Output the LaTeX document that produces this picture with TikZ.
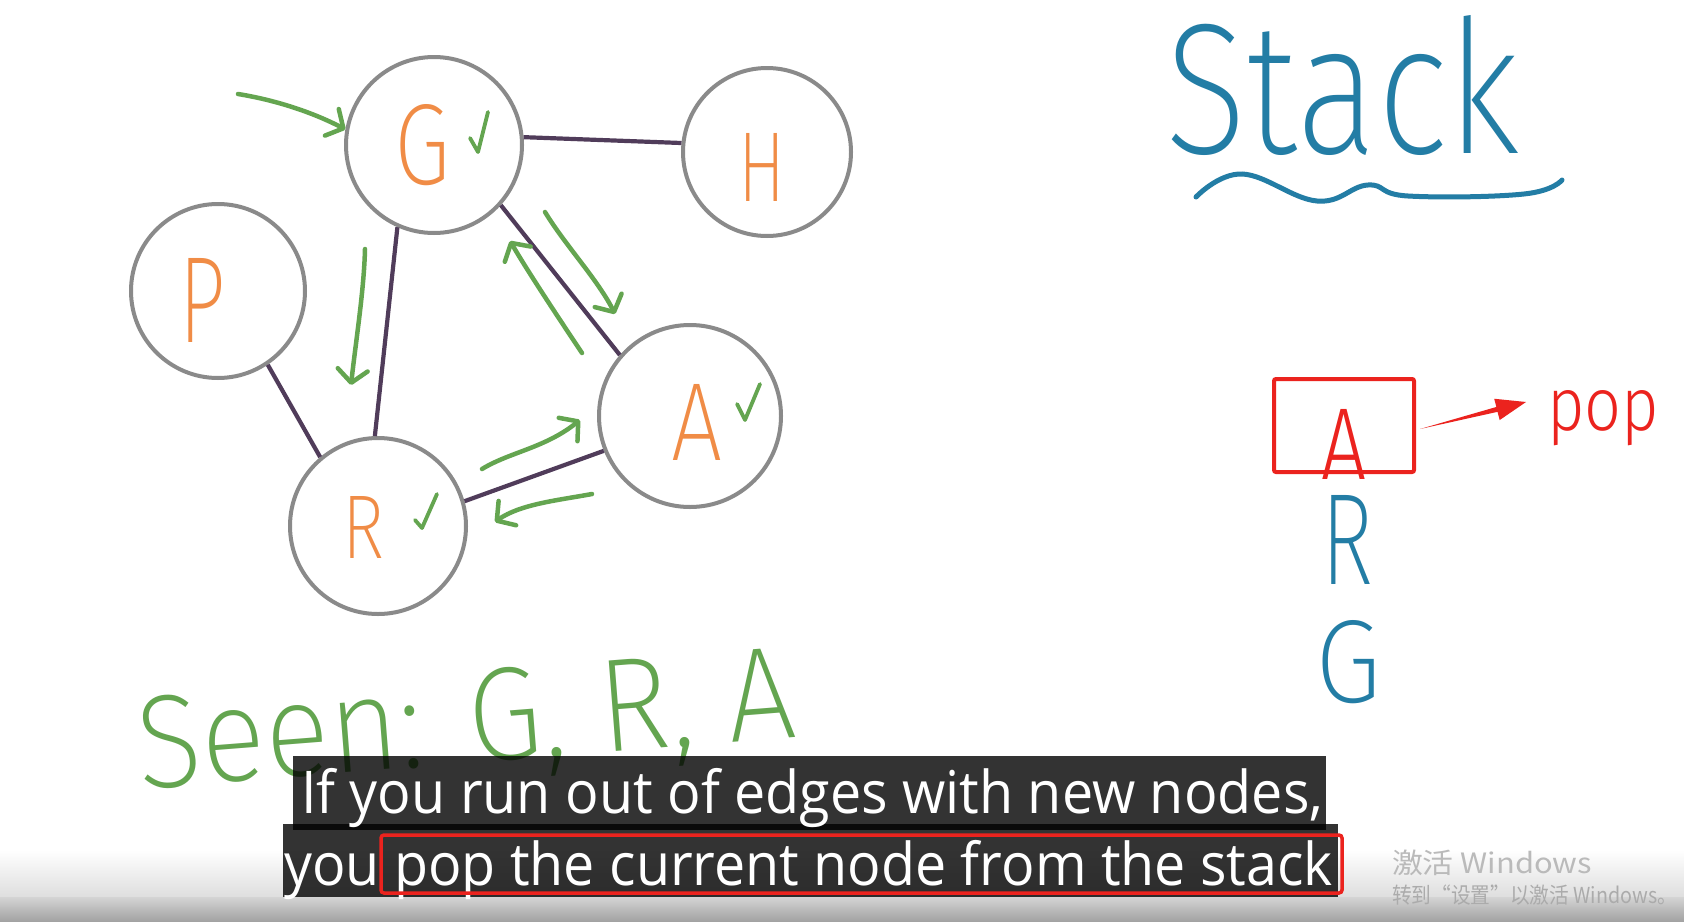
\documentclass[tikz,border=0pt]{standalone}
\usepackage{fontspec}
\usepackage{graphicx}
\setmainfont{Open Sans}
\newfontfamily\hand{Fira Sans}[UprightFont={* Light}]
\newfontfamily\handx{Fira Sans}[UprightFont={* ExtraLight}]
\newfontfamily\subfont{Open Sans}
\newfontfamily\cjkfont{Noto Sans CJK SC}
\usetikzlibrary{arrows.meta,calc}
\definecolor{cgray}{RGB}{138,138,138}
\definecolor{epurple}{RGB}{80,60,90}
\definecolor{hgreen}{RGB}{100,165,80}
\definecolor{horange}{RGB}{240,140,70}
\definecolor{hblue}{RGB}{35,125,165}
\definecolor{hred}{RGB}{235,35,30}
\begin{document}
\begin{tikzpicture}[x=1pt,y=-1pt,
  gnode/.style={circle,draw=cgray,line width=4pt,inner sep=0pt},
  edge/.style={draw=epurple,line width=4.2pt},
  garrow/.style={draw=hgreen,line width=4.5pt,line cap=round,line join=round,
    -{Straight Barb[length=13pt,width=30pt,round]}},
  check/.style={draw=hgreen,line width=3.8pt,line cap=round,line join=round},
  hw/.style={inner sep=0pt,outer sep=0pt},
  subbox/.style={fill=black,fill opacity=0.8}]
\useasboundingbox (0,0) rectangle (1684,921);
\fill[white] (0,0) rectangle (1684,921);
\shade[top color=white,bottom color=black!13] (0,850) rectangle (1684,897.5);
\shade[top color=black!17,bottom color=black!36] (0,897) rectangle (1684,921);

% graph nodes
\node[gnode,minimum size=176pt] (G) at (434,145) {};
\node[gnode,minimum size=168pt] (H) at (767,152) {};
\node[gnode,minimum size=174pt] (P) at (218,291) {};
\node[gnode,minimum size=182pt] (A) at (690,416) {};
\node[gnode,minimum size=176pt] (R) at (378,526) {};

% labels
\node[hw,text=horange] (Gl) at (423,145) {\resizebox{56pt}{80pt}{\handx G}};
\node[hw,text=horange] (Hl) at (762,167) {\resizebox{47pt}{68pt}{\handx H}};
\node[hw,text=horange] (Pl) at (203,300) {\resizebox{46pt}{84pt}{\handx P}};
\node[hw,text=horange] (Al) at (697,422) {\resizebox{51pt}{76pt}{\handx A}};
\node[hw,text=horange] (Rl) at (363,527) {\resizebox{42pt}{62pt}{\handx R}};

% edges
\draw[edge] (G.5) -- (H.174);
\draw[edge] (G.246) -- (R.92);
\draw[edge] (G.318) -- (A.139);
\draw[edge] (P.304) -- (R.130);
\draw[edge] (R.16) -- (A.202);

% green traversal arrows
\coordinate (in0) at (238,94);
\draw[garrow] (in0) .. controls (275,100) and (312,112) .. (G.170);
\coordinate (gr0) at (365,249); \coordinate (gr1) at (351,385);
\draw[garrow] (gr0) .. controls (364,290) and (356,340) .. (gr1);
\coordinate (ga0) at (545,212); \coordinate (ga1) at (615,314);
\draw[garrow] (ga0) .. controls (565,245) and (598,280) .. (ga1);
\coordinate (ag0) at (582,353); \coordinate (ag1) at (510,241);
\draw[garrow] (ag0) .. controls (560,320) and (530,275) .. (ag1);
\coordinate (ra0) at (482,469); \coordinate (ra1) at (580,420);
\draw[garrow] (ra0) .. controls (510,452) and (545,448) .. (ra1);
\coordinate (ar0) at (592,494); \coordinate (ar1) at (495,522);
\draw[garrow] (ar0) .. controls (560,500) and (520,504) .. (ar1);

% check marks
\draw[check] (470,138) -- (478,152) -- (488,112);
\draw[check] (737,404) -- (745,420) -- (760,384);
\draw[check] (415,520) -- (422,528) -- (437,494);

% Seen list
\node[hw,text=hgreen,rotate=4.5,anchor=base west] (seen) at (140,789)
  {\resizebox{660pt}{92pt}{\handx Seen: G, R, A}};

% Stack title
\node[hw,text=hblue,anchor=south west] (stk) at (1165,156) {\resizebox{355pt}{138pt}{\handx Stack}};
\draw[hblue,line width=5pt,line cap=round] plot[smooth,tension=0.7] coordinates
  {(1196,197) (1242,174) (1317,201) (1368,185) (1408,196) (1524,194) (1562,180)};

% stack contents
\node[draw=hred,line width=4pt,rounded corners=2pt,minimum width=140pt,minimum height=93pt,inner sep=0pt] (topbox) at (1344,425.5) {};
\node[hw,text=hred] (sA) at (1344,444) {\resizebox{45pt}{70pt}{\hand A}};
\node[hw,text=hblue] (sR) at (1347,540) {\resizebox{52pt}{89pt}{\handx R}};
\node[hw,text=hblue] (sG) at (1349,662) {\resizebox{66pt}{82pt}{\handx G}};

% pop arrow
\coordinate (pt) at (1420,429);
\coordinate (ph) at (1526,402);
\coordinate (pb) at ($(ph)!30pt!(pt)$);
\fill[hred] (pt) -- ($(pb)!2.5pt!90:(ph)$) -- ($(pb)!11pt!90:(ph)$) -- (ph)
  -- ($(pb)!11pt!-90:(ph)$) -- ($(pb)!2.5pt!-90:(ph)$) -- cycle;
\node[hw,text=hred,anchor=base west] (pop) at (1547,430) {\resizebox{112pt}{40pt}{\hand pop}};

% subtitles
\fill[subbox] (293,756) rectangle (1326,830);
\fill[subbox] (283,824) rectangle (1338,897);
\node[hw,text=white,anchor=base west] (l1) at (301,813)
  {\resizebox{1022pt}{\height}{\subfont\fontsize{59}{59}\selectfont If you run out of edges with new nodes,}};
\node[hw,text=white,anchor=base west] (l2) at (284,885)
  {\resizebox{1049pt}{\height}{\subfont\fontsize{59}{59}\selectfont you pop the current node from the stack}};
\draw[hred,line width=3.5pt,rounded corners=3pt] (381,835) rectangle (1342,893);

% watermark
\node[hw,anchor=base west,text=black!27] (wm1) at (1392,873)
  {\resizebox{200pt}{\height}{\cjkfont\fontsize{28}{28}\selectfont 激活 Windows}};
\node[hw,anchor=base west,text=black!33] (wm2) at (1392,903)
  {\resizebox{285pt}{\height}{\cjkfont\fontsize{22}{22}\selectfont 转到“设置”以激活 Windows。}};
\end{tikzpicture}
\end{document}
